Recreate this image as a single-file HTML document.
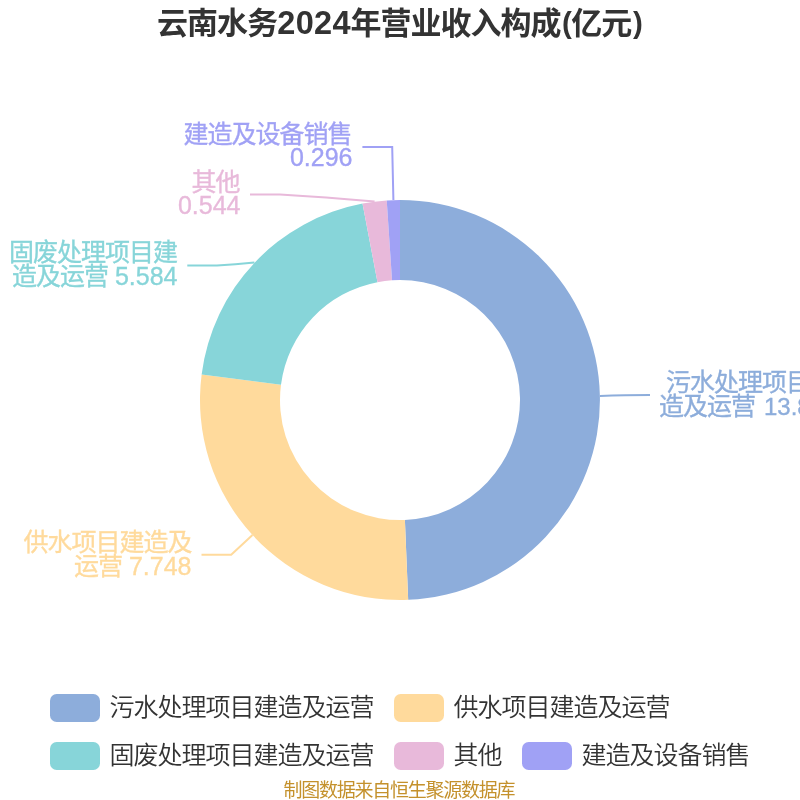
<!DOCTYPE html>
<html lang="zh-CN">
<head>
<meta charset="utf-8">
<title>云南水务2024年营业收入构成(亿元)</title>
<style>
html,body{margin:0;padding:0;background:#fff;}
body{width:800px;height:800px;overflow:hidden;}
svg{display:block;}
text{font-family:"Liberation Sans","Noto Sans CJK SC",sans-serif;}
.title{font-size:31px;font-weight:700;fill:#333;letter-spacing:-1px;}
.tn{font-size:32.5px;letter-spacing:0;}
.tp{font-size:29.5px;letter-spacing:0;}
.n{font-size:25px;letter-spacing:0;font-weight:400;}
.lbl{font-size:25px;letter-spacing:-1px;font-weight:400;stroke-width:0.35px;}
.lg{font-size:25px;letter-spacing:-1px;font-weight:350;fill:#333;}
.ft{font-size:19px;letter-spacing:-1.25px;font-weight:400;fill:#c4912c;}
.ll{fill:none;stroke-width:2;}
</style>
</head>
<body>
<svg width="800" height="800" viewBox="0 0 800 800">
<rect width="800" height="800" fill="#fff"/>
<text class="title" y="34"><tspan x="157">云南水务</tspan><tspan class="tn" x="277.3" dx="0 0.3 0.3 0.3">2024</tspan><tspan x="350.5">年营业收入构成</tspan><tspan class="tp" x="562" y="33">(</tspan><tspan x="571.25" y="34">亿元</tspan><tspan class="tp" x="633" y="33">)</tspan></text>
<g>
<path d="M400.00,200.00A200,200 0 0 1 408.17,599.83L404.90,519.90A120,120 0 0 0 400.00,280.00Z" fill="#8daddb"/>
<path d="M408.17,599.83A200,200 0 0 1 201.64,374.43L280.99,384.66A120,120 0 0 0 404.90,519.90Z" fill="#ffda9c"/>
<path d="M201.64,374.43A200,200 0 0 1 362.50,203.55L377.50,282.13A120,120 0 0 0 280.99,384.66Z" fill="#87d5d9"/>
<path d="M362.50,203.55A200,200 0 0 1 386.72,200.44L392.03,280.26A120,120 0 0 0 377.50,282.13Z" fill="#e8b9da"/>
<path d="M386.72,200.44A200,200 0 0 1 400.00,200.00L400.00,280.00A120,120 0 0 0 392.03,280.26Z" fill="#a0a1f5"/>
</g>
<g class="ll">
<path d="M600,395.9 Q612,395.4 625,395.2 L650,395" stroke="#8daddb"/>
<path d="M252.5,535.1 L231.2,554.7 L201.5,554.7" stroke="#ffda9c"/>
<path d="M254.4,262.6 Q235,264.5 217,265.5 L187.3,265.5" stroke="#87d5d9"/>
<path d="M374.6,201.6 Q325,197 280,194.5 L250,194.5" stroke="#e8b9da"/>
<path d="M393.4,200.1 L392.2,147 L362.4,147" stroke="#a0a1f5"/>
</g>
<g class="lbl">
<text x="666" y="390.6" fill="#8daddb" stroke="#8daddb">污水处理项目建</text>
<text x="659" y="414.5" fill="#8daddb" stroke="#8daddb">造及运营 <tspan class="n" dx="3" style="font-size:24px">13.808</tspan></text>
<text x="191.5" y="551" fill="#ffda9c" stroke="#ffda9c" text-anchor="end">供水项目建造及</text>
<text x="191.5" y="575" fill="#ffda9c" stroke="#ffda9c" text-anchor="end">运营 <tspan class="n" dx="1">7.748</tspan></text>
<text x="177" y="261" fill="#87d5d9" stroke="#87d5d9" text-anchor="end">固废处理项目建</text>
<text x="177.5" y="285" fill="#87d5d9" stroke="#87d5d9" text-anchor="end">造及运营 <tspan class="n" dx="1">5.584</tspan></text>
<text x="239.5" y="190.5" fill="#e8b9da" stroke="#e8b9da" text-anchor="end">其他</text>
<text x="240.5" y="213.6" fill="#e8b9da" stroke="#e8b9da" text-anchor="end"><tspan class="n">0.544</tspan></text>
<text x="351.5" y="142.5" fill="#a0a1f5" stroke="#a0a1f5" text-anchor="end">建造及设备销售</text>
<text x="352.5" y="165.6" fill="#a0a1f5" stroke="#a0a1f5" text-anchor="end"><tspan class="n">0.296</tspan></text>
</g>
<g>
<rect x="50" y="694" width="50" height="28" rx="6.7" fill="#8daddb"/>
<text class="lg" x="109.5" y="715.5">污水处理项目建造及运营</text>
<rect x="394" y="694" width="50" height="28" rx="6.7" fill="#ffda9c"/>
<text class="lg" x="453.5" y="715.5">供水项目建造及运营</text>
<rect x="50" y="742" width="50" height="28" rx="6.7" fill="#87d5d9"/>
<text class="lg" x="109.5" y="763.5">固废处理项目建造及运营</text>
<rect x="394" y="742" width="50" height="28" rx="6.7" fill="#e8b9da"/>
<text class="lg" x="453.5" y="763.5">其他</text>
<rect x="522" y="742" width="50" height="28" rx="6.7" fill="#a0a1f5"/>
<text class="lg" x="581.5" y="763.5">建造及设备销售</text>
</g>
<text class="ft" x="398.8" y="796.5" text-anchor="middle">制图数据来自恒生聚源数据库</text>
</svg>
</body>
</html>
